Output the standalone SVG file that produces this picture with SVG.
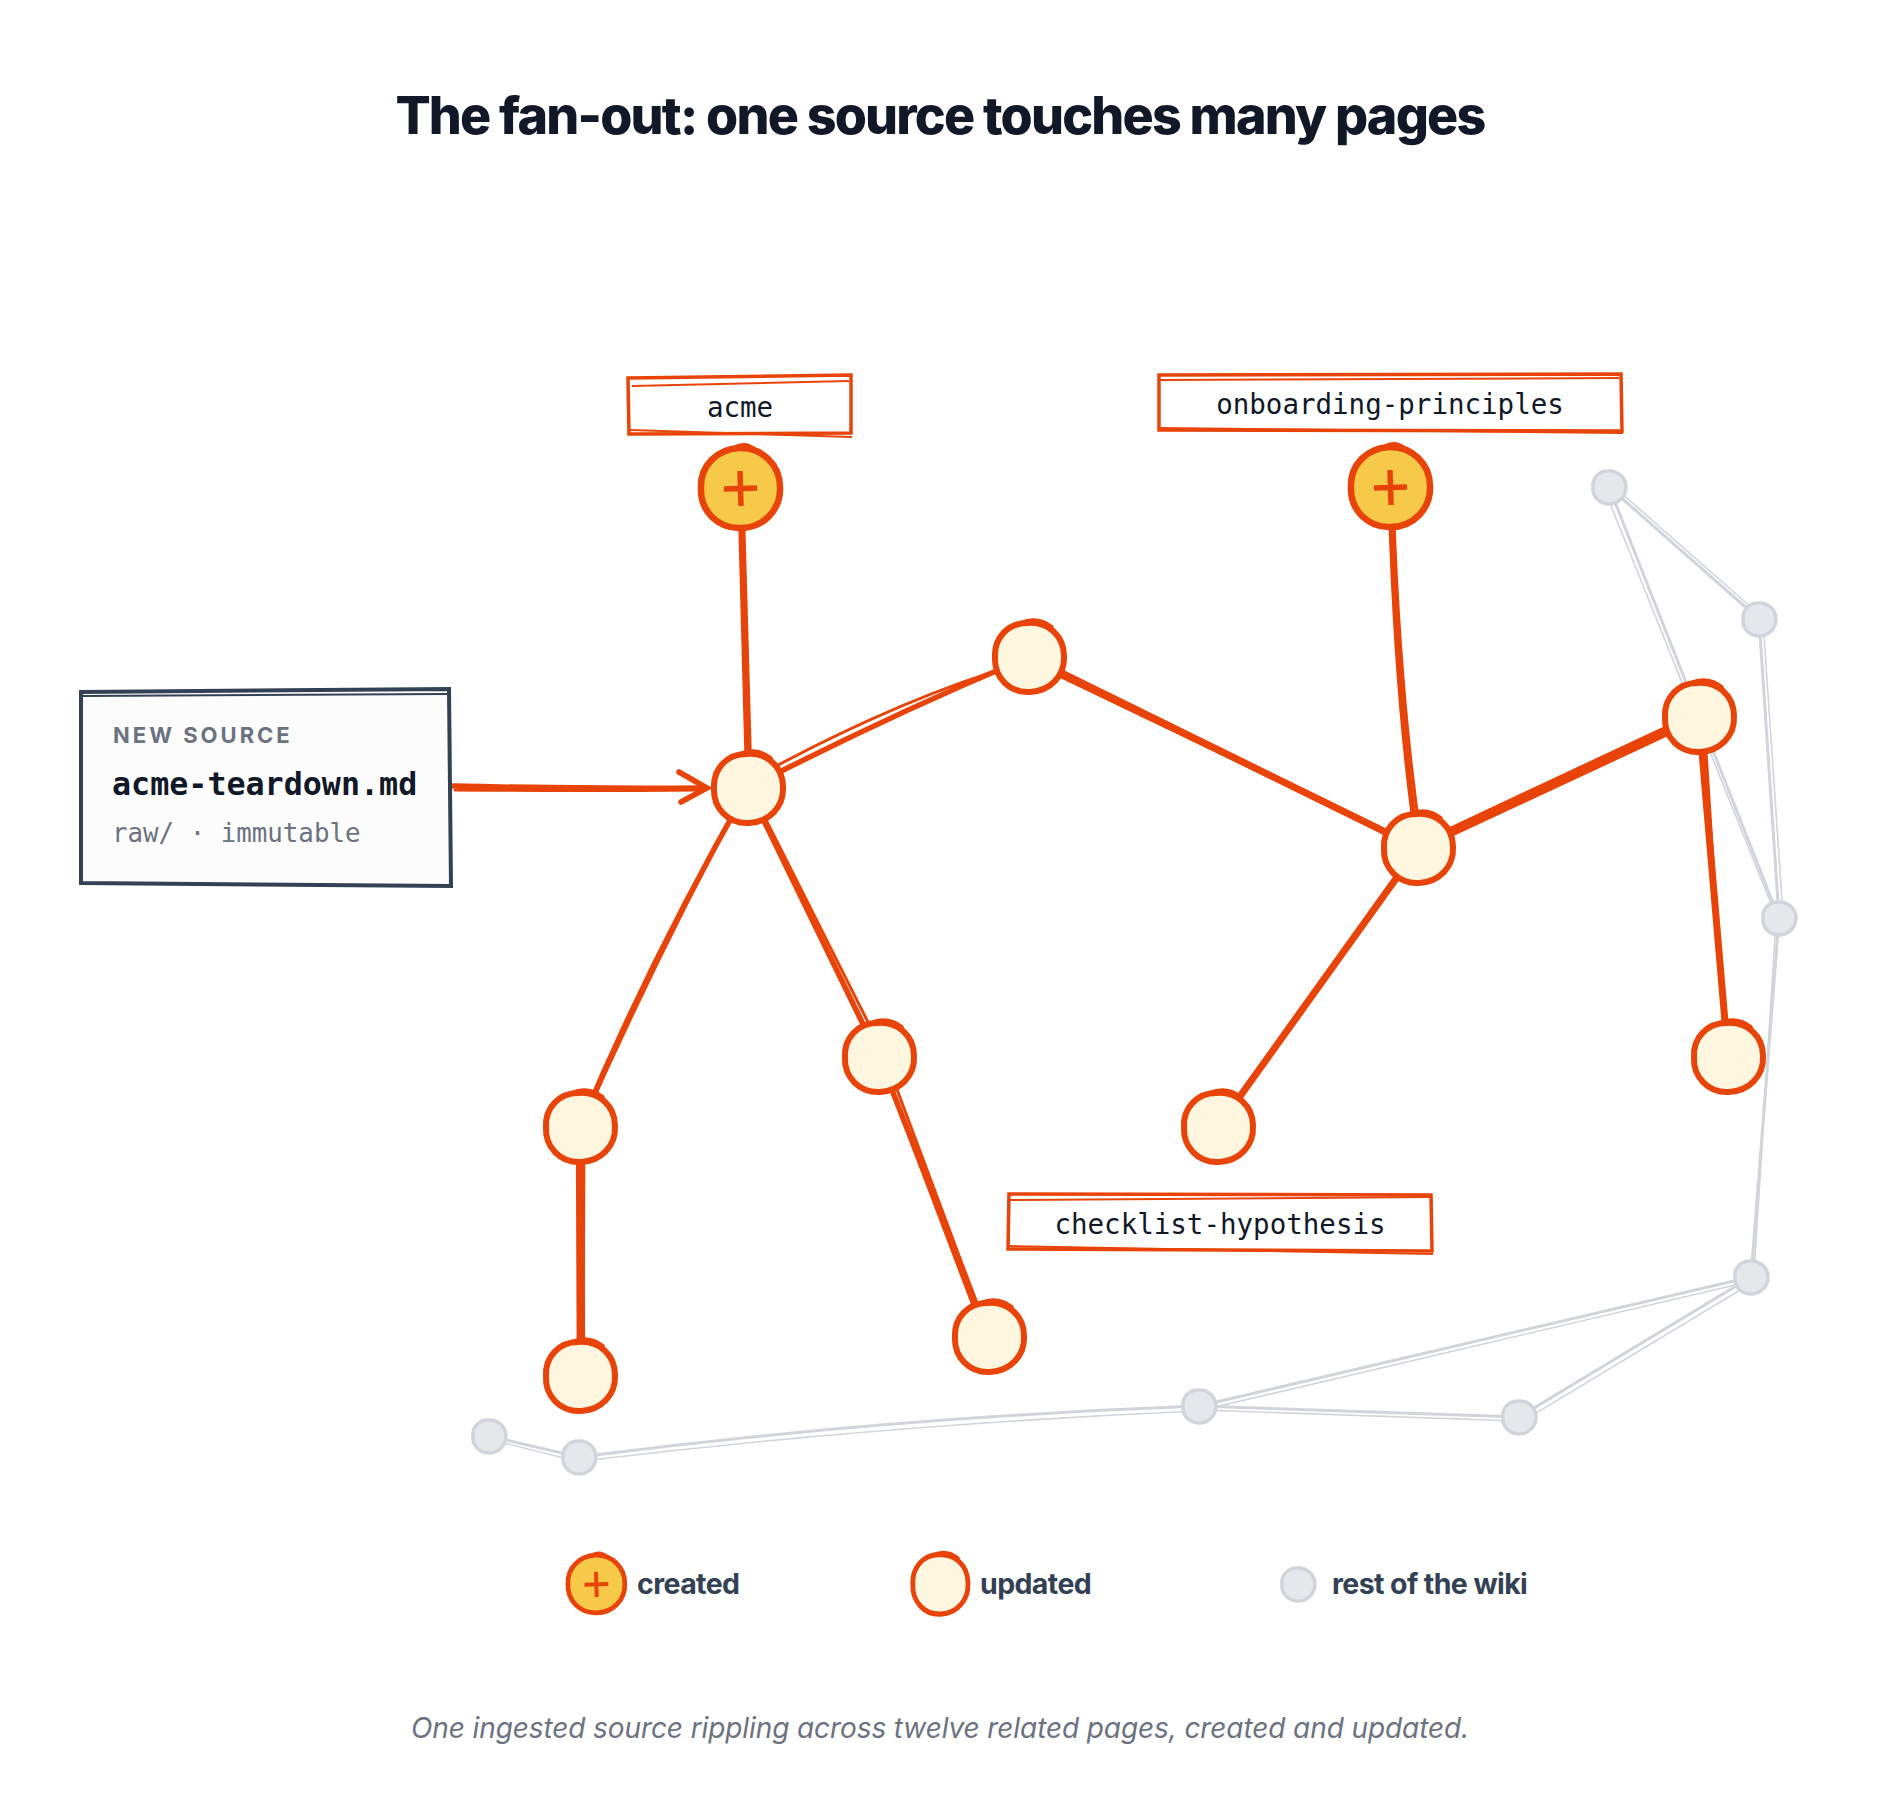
<svg xmlns="http://www.w3.org/2000/svg" xmlns:xlink="http://www.w3.org/1999/xlink" width="1880" height="1814" viewBox="0 0 1880 1814">
<style>
.title{font-family:Inter,"Noto Sans",sans-serif;font-weight:800;font-size:52px;fill:#111827;letter-spacing:-1.8px}
.mono{font-family:"DejaVu Sans Mono","Liberation Mono",monospace;fill:#111827}
.lbl{font-size:27.5px}
.kicker{font-family:Inter,"Noto Sans",sans-serif;font-weight:700;font-size:22px;fill:#6b7280;letter-spacing:3px}
.fname{font-size:31.7px;font-weight:700}
.sub{font-size:25.8px;fill:#6b7280}
.legend{font-family:Inter,"Noto Sans",sans-serif;font-weight:700;font-size:28.5px;fill:#334155;letter-spacing:-0.6px}
.caption{font-family:Inter,"Noto Sans",sans-serif;font-style:italic;font-size:28px;fill:#6b7280;letter-spacing:-0.1px}
.e{stroke:#e8440a;stroke-linecap:round;fill:none}
.w5{stroke-width:5.5}
.w7{stroke-width:7}
.w8{stroke-width:8.5}
.e2{stroke-width:3}
.g{stroke:#d1d5db;stroke-linecap:round;fill:none;stroke-width:3}
.g2{stroke:#d1d5db;stroke-linecap:round;fill:none;stroke-width:1.6}
.box{fill:#ffffff;stroke:#e8440a;stroke-width:3.5}
.boxt{fill:none;stroke:#e8440a;stroke-width:2}
</style>
<defs>
<g id="upd">
<path d="M-2,-34 C19,-36 35,-21 35,-1 C36,19 21,34 1,35 C-20,36 -35,20 -34,0 C-35,-19 -21,-34 -2,-34 Z" fill="#fff6e0" stroke="#e8440a" stroke-width="6"/>
<path d="M-9,-34 C3,-39 14,-37 23,-30" fill="none" stroke="#e8440a" stroke-width="3.5" stroke-linecap="round"/>
</g>
<g id="cre">
<path d="M-1,-40 C22,-41 40,-23 40,-1 C41,22 23,40 1,40 C-22,41 -40,23 -39,0 C-40,-22 -23,-39 -1,-40 Z" fill="#f7c948" stroke="#e8440a" stroke-width="6.5"/>
<path d="M-6,-40 C2,-45 10,-43 16,-38" fill="none" stroke="#e8440a" stroke-width="4" stroke-linecap="round"/>
<path d="M-16,1 L17,0 M0,-17 L1,18" fill="none" stroke="#e8440a" stroke-width="5.5" stroke-linecap="butt"/>
</g>
<g id="gry">
<path d="M-1,-16 C9,-17 17,-9 17,0 C17,10 9,17 0,17 C-10,17 -17,9 -16,0 C-17,-9 -10,-16 -1,-16 Z" fill="#e5e7eb" stroke="#d1d5db" stroke-width="3.5"/>
</g>
</defs>
<rect width="1880" height="1814" fill="#ffffff"/>
<text class="title" x="940" y="134" text-anchor="middle">The fan-out: one source touches many pages</text>

<g id="connectors">
<!-- rest of wiki -->
<path class="g" d="M1609,487 L1759,619"/><path class="g2" d="M1612,485 L1761,616"/>
<path class="g" d="M1609,487 L1779,918"/><path class="g2" d="M1605,491 L1776,916"/>
<path class="g" d="M1759,619 L1779,918"/><path class="g2" d="M1763,621 L1783,915"/>
<path class="g" d="M1779,918 L1751,1277"/><path class="g2" d="M1776,920 L1754,1275"/>
<path class="g" d="M1751,1277 L1199,1406"/><path class="g2" d="M1748,1282 L1202,1410"/>
<path class="g" d="M1751,1277 L1519,1417"/><path class="g2" d="M1755,1281 L1523,1421"/>
<path class="g" d="M1199,1406 L1519,1417"/><path class="g2" d="M1201,1410 L1517,1421"/>
<path class="g" d="M1199,1406 Q880,1418 579,1457"/><path class="g2" d="M1196,1411 Q880,1425 582,1461"/>
<path class="g" d="M579,1457 L489,1436"/><path class="g2" d="M576,1461 L492,1440"/>
<!-- touched pages -->
<path class="e w5" d="M740,488 L748,788"/><path class="e e2" d="M743,495 L751,780"/>
<path class="e w5" d="M748,788 Q890,715 1029,657"/><path class="e e2" d="M754,778 Q900,698 1025,662"/>
<path class="e w7" d="M1029,657 L1418,848"/><path class="e e2" d="M1032,663 L1414,846"/>
<path class="e w5" d="M1390,487 Q1396,700 1418,848"/><path class="e e2" d="M1393,492 Q1399,690 1421,840"/>
<path class="e w8" d="M1418,848 L1699,717"/><path class="e e2" d="M1421,842 L1696,713"/>
<path class="e w7" d="M1699,717 L1728,1057"/><path class="e e2" d="M1704,720 L1725,1050"/>
<path class="e w5" d="M748,788 Q650,960 580,1127"/><path class="e e2" d="M744,794 Q660,950 584,1120"/>
<path class="e w8" d="M580,1127 L581,1376"/><path class="e e2" d="M584,1130 L583,1370"/>
<path class="e w5" d="M748,788 L879,1057"/><path class="e e2" d="M752,792 L883,1052"/>
<path class="e w5" d="M879,1057 L989,1337"/><path class="e e2" d="M886,1060 L986,1328"/><path class="e e2" d="M881,1062 L983,1332"/>
<path class="e w7" d="M1418,848 L1218,1127"/><path class="e e2" d="M1412,853 L1222,1120"/>
<!-- source arrow -->
<path class="e w5" d="M453,786 Q580,789 705,788"/><path class="e e2" d="M455,790 Q580,791 700,790"/>
<path class="e w5" d="M679,772 L707,788 L681,802"/>
</g>

<g id="source">
<path d="M81,692 L449,689 L451,886 L81,883 Z" fill="#fcfcfd" stroke="#334155" stroke-width="4"/>
<path d="M83,696 L447,694" fill="none" stroke="#334155" stroke-width="2"/>
<text class="kicker" x="113" y="743">NEW SOURCE</text>
<text class="mono fname" x="112" y="795">acme-teardown.md</text>
<text class="mono sub" x="112" y="842">raw/ · immutable</text>
</g>

<g id="label-acme">
<path class="box" d="M628,378 L851,375 L851,433 L629,434 Z"/>
<path class="boxt" d="M632,386 L849,381 M630,430 L852,437"/>
<text class="mono lbl" x="740" y="417" text-anchor="middle">acme</text>
</g>
<g id="label-onboarding">
<path class="box" d="M1159,375 L1621,374 L1622,431 L1159,430 Z"/>
<path class="boxt" d="M1160,380 L1619,378 M1160,428 L1623,433"/>
<text class="mono lbl" x="1390" y="414" text-anchor="middle">onboarding-principles</text>
</g>
<g id="label-checklist">
<path class="box" d="M1009,1194 L1431,1195 L1432,1251 L1008,1249 Z"/>
<path class="boxt" d="M1010,1200 L1430,1197 M1009,1246 L1433,1254"/>
<text class="mono lbl" x="1220" y="1234" text-anchor="middle">checklist-hypothesis</text>
</g>

<g id="node-acme"><use xlink:href="#cre" x="740" y="488"/></g>
<g id="node-onboarding-principles"><use xlink:href="#cre" x="1390" y="487"/></g>
<g id="node-hub-a"><use xlink:href="#upd" x="748" y="788"/></g>
<g id="node-top"><use xlink:href="#upd" x="1029" y="657"/></g>
<g id="node-hub-b"><use xlink:href="#upd" x="1418" y="848"/></g>
<g id="node-right"><use xlink:href="#upd" x="1699" y="717"/></g>
<g id="node-right-low"><use xlink:href="#upd" x="1728" y="1057"/></g>
<g id="node-left-mid"><use xlink:href="#upd" x="580" y="1127"/></g>
<g id="node-left-low"><use xlink:href="#upd" x="580" y="1376"/></g>
<g id="node-mid"><use xlink:href="#upd" x="879" y="1057"/></g>
<g id="node-mid-low"><use xlink:href="#upd" x="989" y="1337"/></g>
<g id="node-checklist-hypothesis"><use xlink:href="#upd" x="1218" y="1127"/></g>

<g id="wiki-1"><use xlink:href="#gry" x="1609" y="487"/></g>
<g id="wiki-2"><use xlink:href="#gry" x="1759" y="619"/></g>
<g id="wiki-3"><use xlink:href="#gry" x="1779" y="918"/></g>
<g id="wiki-4"><use xlink:href="#gry" x="1751" y="1277"/></g>
<g id="wiki-5"><use xlink:href="#gry" x="1519" y="1417"/></g>
<g id="wiki-6"><use xlink:href="#gry" x="1199" y="1406"/></g>
<g id="wiki-7"><use xlink:href="#gry" x="579" y="1457"/></g>
<g id="wiki-8"><use xlink:href="#gry" x="489" y="1436"/></g>

<g id="legend">
<use xlink:href="#cre" transform="translate(596,1584) scale(0.72)"/>
<text class="legend" x="637" y="1594">created</text>
<use xlink:href="#upd" transform="translate(940,1584) scale(0.8,0.86)"/>
<text class="legend" x="980" y="1594">updated</text>
<use xlink:href="#gry" x="1298" y="1584"/>
<text class="legend" x="1332" y="1594">rest of the wiki</text>
</g>

<text class="caption" x="940" y="1738" text-anchor="middle">One ingested source rippling across twelve related pages, created and updated.</text>
</svg>
